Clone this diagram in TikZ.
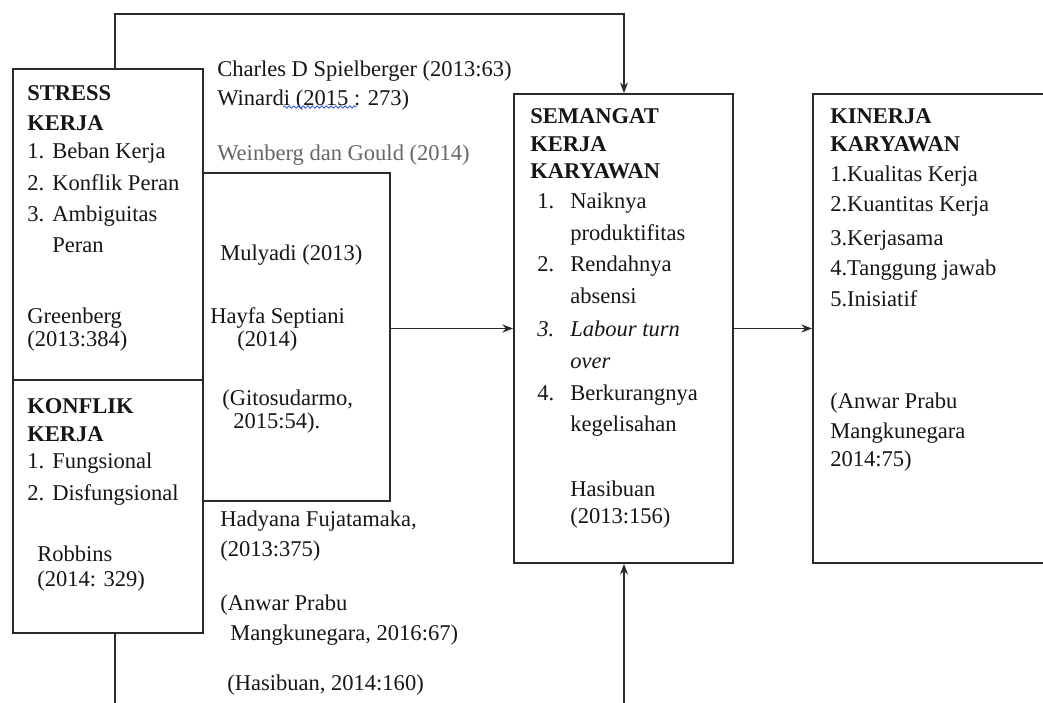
\documentclass[tikz,border=0pt]{standalone}
\usepackage{fontspec}
\setmainfont{Liberation Serif}
\usetikzlibrary{fit,arrows.meta,decorations.pathmorphing}
\definecolor{ink}{HTML}{161616}
\definecolor{lineink}{HTML}{2A2A2A}
\definecolor{grayink}{HTML}{666666}
\definecolor{spell}{HTML}{3355CC}
\newcommand\nm[1]{\makebox[18.75pt][l]{#1}}
\newcommand\nmb[1]{\makebox[24.75pt][l]{#1}}
\tikzset{
  box/.style={draw=lineink, line width=1.35pt, inner sep=0pt, fill=none},
  conn/.style={draw=lineink, line width=1.35pt},
  arr/.style={conn, -{Stealth[length=8pt,width=6pt]}},
  txt/.style={anchor=mid west, inner sep=0pt, text=ink, yshift=-3.75pt, font=\fontsize{16.9}{20}\selectfont},
  hd/.style={txt, yshift=-1.5pt, font=\fontsize{16.9}{20}\selectfont\bfseries},
}
\begin{document}
\begin{tikzpicture}[x=0.75pt,y=-0.75pt]
\useasboundingbox[fill=white] (0,0) rectangle (1043,703);
% boxes
\node[box, fit={(13,69) (203,380)}] (stress) {};
\node[box, fit={(13,380) (203,633)}] (konflik) {};
\node[box, fit={(203,173) (390,501)}] (teori) {};
\node[box, fit={(514,94) (733,563)}] (semangat) {};
\node[box, fit={(813,94) (1070,563)}] (kinerja) {};
% connectors
\coordinate (topL) at (115,14);
\coordinate (topR) at (624,14);
\coordinate (botL) at (115,703);
\coordinate (botR) at (624,703);
\draw[arr] (topL |- stress.north) -- (topL) -- (topR) -- (topR |- semangat.north);
\draw[conn] (botL |- konflik.south) -- (botL);
\draw[arr] (botR) -- (botR |- semangat.south);
\draw[arr] (semangat.west -| teori.east) -- (semangat.west);
\draw[arr] (semangat.east) -- (kinerja.west);
% stress kerja
\node[hd] (s1) at (27,90) {STRESS};
\node[hd] (s2) at (27,120) {KERJA};
\node[txt] (s3) at (27,150) {\nm{1.}Beban Kerja};
\node[txt] (s4) at (27,182) {\nm{2.}Konflik Peran};
\node[txt] (s5) at (27,213) {\nm{3.}Ambiguitas};
\node[txt] (s6) at (52,244) {Peran};
\node[txt] (s7) at (27,315) {Greenberg};
\node[txt] (s8) at (27,338) {(2013:384)};
% konflik kerja
\node[hd] (k1) at (27,403) {KONFLIK};
\node[hd] (k2) at (27,431) {KERJA};
\node[txt] (k3) at (27,460) {\nm{1.}Fungsional};
\node[txt] (k4) at (27,492) {\nm{2.}Disfungsional};
\node[txt] (k5) at (37,553) {Robbins};
\node[txt] (k6) at (37,578) {(2014: 329)};
% middle references
\node[txt] (m1) at (217,68) {Charles D Spielberger (2013:63)};
\node[txt] (m2) at (217,97) {Winardi (2015 : 273)};
\node[txt, text=grayink] (m3) at (217,152) {Weinberg dan Gould (2014)};
\node[txt] (m4) at (220,252) {Mulyadi (2013)};
\node[txt] (m5) at (210,315) {Hayfa Septiani};
\node[txt] (m6) at (237,338) {(2014)};
\node[txt] (m7) at (222,397) {(Gitosudarmo,};
\node[txt] (m8) at (233,420) {2015:54).};
\node[txt] (m9) at (220,518) {Hadyana Fujatamaka,};
\node[txt] (m10) at (220,548) {(2013:375)};
\node[txt] (m11) at (220,602) {(Anwar Prabu};
\node[txt] (m12) at (230,632) {Mangkunegara, 2016:67)};
\node[txt] (m13) at (227,682) {(Hasibuan, 2014:160)};
\coordinate (wv1) at (283,107);
\coordinate (wv2) at (357,107);
\draw[spell, line width=0.6pt, decorate, decoration={snake, amplitude=0.9pt, segment length=3.5pt}] (wv1) -- (wv2);
% semangat kerja karyawan
\node[hd] (g1) at (530,113) {SEMANGAT};
\node[hd] (g2) at (530,141) {KERJA};
\node[hd] (g3) at (530,168) {KARYAWAN};
\node[txt] (g4) at (537,200) {\nmb{1.}Naiknya};
\node[txt] (g5) at (570,232) {produktifitas};
\node[txt] (g6) at (537,263) {\nmb{2.}Rendahnya};
\node[txt] (g7) at (570,295) {absensi};
\node[txt] (g8) at (537,328) {\nmb{\itshape 3.}\textit{Labour turn}};
\node[txt] (g9) at (570,360) {\textit{over}};
\node[txt] (g10) at (537,392) {\nmb{4.}Berkurangnya};
\node[txt] (g11) at (570,423) {kegelisahan};
\node[txt] (g12) at (570,488) {Hasibuan};
\node[txt] (g13) at (570,515) {(2013:156)};
% kinerja karyawan
\node[hd] (n1) at (830,113) {KINERJA};
\node[hd] (n2) at (830,141) {KARYAWAN};
\node[txt] (n3) at (830,173) {1.Kualitas Kerja};
\node[txt] (n4) at (830,203) {2.Kuantitas Kerja};
\node[txt] (n5) at (830,237) {3.Kerjasama};
\node[txt] (n6) at (830,267) {4.Tanggung jawab};
\node[txt] (n7) at (830,298) {5.Inisiatif};
\node[txt] (n8) at (830,400) {(Anwar Prabu};
\node[txt] (n9) at (830,430) {Mangkunegara};
\node[txt] (n10) at (830,458) {2014:75)};
\end{tikzpicture}
\end{document}
